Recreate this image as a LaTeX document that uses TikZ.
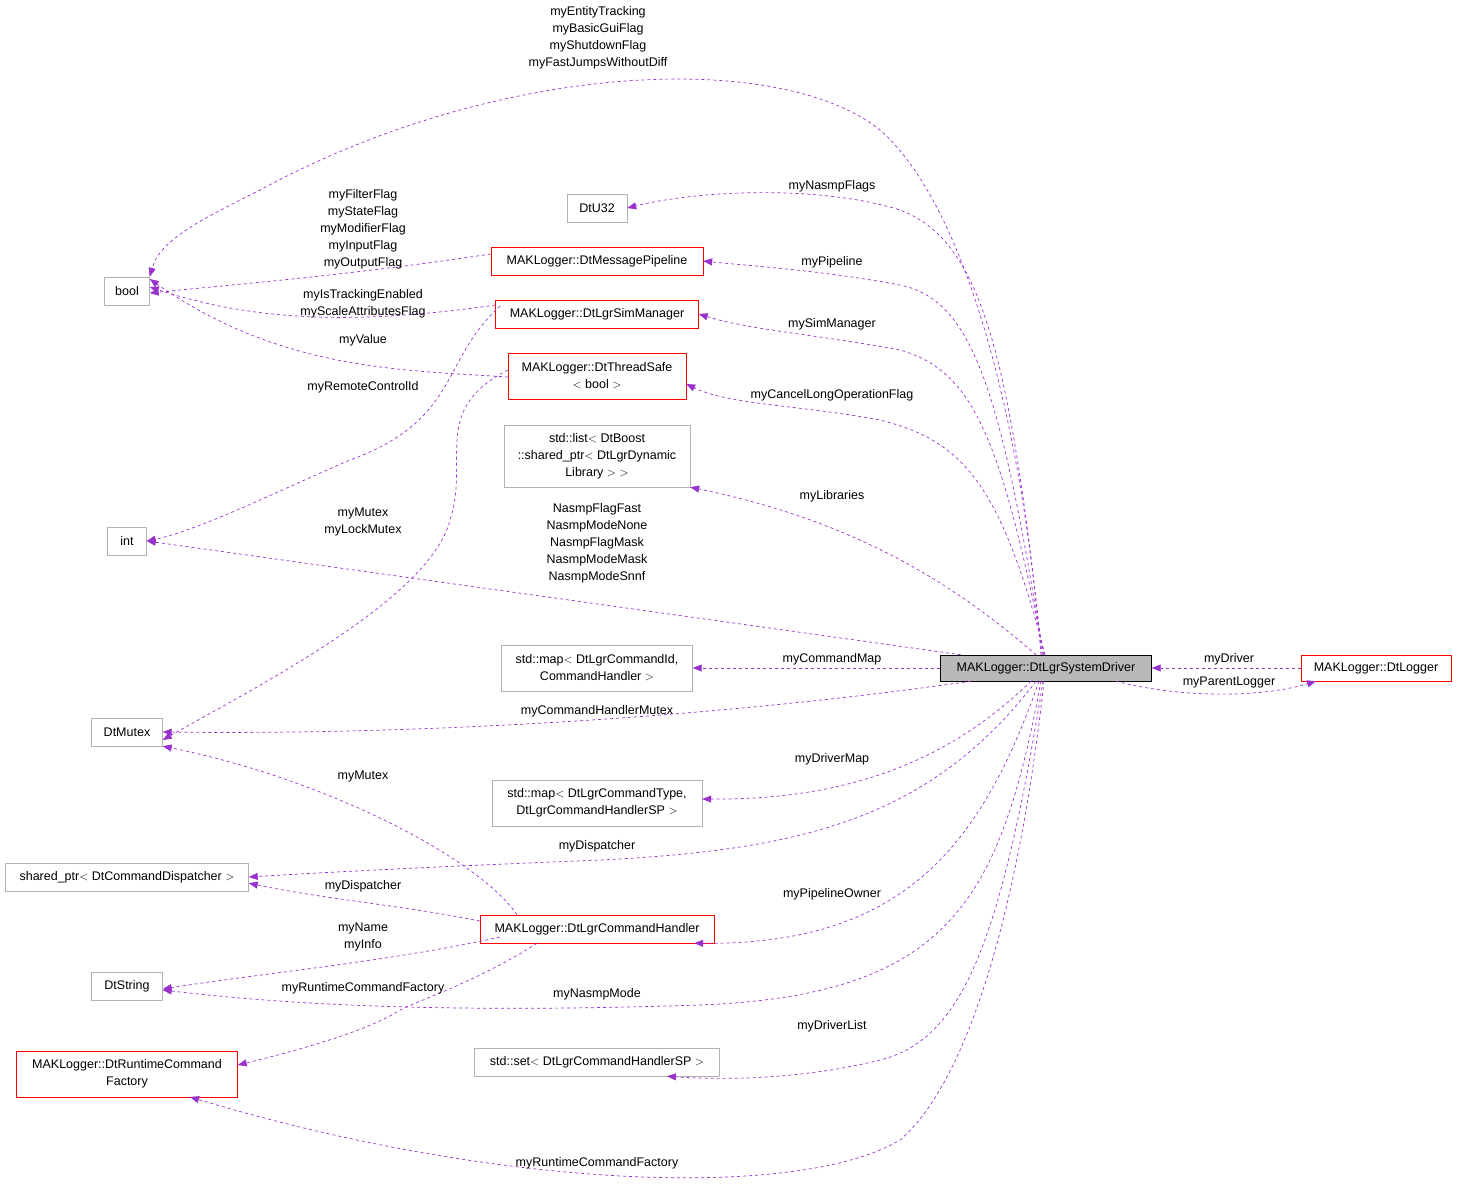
\documentclass[tikz,border=0pt]{standalone}
\usepackage{fontspec}
\setmainfont{Liberation Sans}
\usetikzlibrary{arrows.meta}
\begin{document}
\begin{tikzpicture}[x=1pt,y=-1pt,
  every node/.style={font=\fontsize{12.5}{17}\selectfont},
  box/.style={draw=gray!60,fill=white,inner sep=3pt,minimum height=28pt,align=center},
  rbox/.style={box,draw=red},
  e/.style={draw={rgb,255:red,153;green,50;blue,204},dashed,line width=0.7pt,-{Triangle[length=9pt,width=7pt]}},
  lab/.style={align=center,inner sep=0pt}]
\useasboundingbox (0,0) rectangle (1459,1190);
\node[box,minimum width=45pt] (bool) at (127,291) {bool};
\node[box,minimum width=39pt] (int) at (127,541) {int};
\node[box,minimum width=71pt] (mutex) at (127,732) {DtMutex};
\node[box,minimum width=243pt] (disp) at (127,877) {shared\_ptr$<$ DtCommandDispatcher $>$};
\node[box,minimum width=71pt] (str) at (127,986) {DtString};
\node[rbox,minimum width=221pt,minimum height=46pt] (rcf) at (127,1074) {MAKLogger::DtRuntimeCommand\\Factory};
\node[box,minimum width=60pt] (u32) at (597,208) {DtU32};
\node[rbox,minimum width=212pt] (pipe) at (597,261) {MAKLogger::DtMessagePipeline};
\node[rbox,minimum width=203pt] (sim) at (597,314) {MAKLogger::DtLgrSimManager};
\node[rbox,minimum width=178pt,minimum height=46pt] (ts) at (597,376) {MAKLogger::DtThreadSafe\\$<$ bool $>$};
\node[box,minimum width=186pt,minimum height=62pt] (list) at (597,456) {std::list$<$ DtBoost\\::shared\_ptr$<$ DtLgrDynamic\\Library $>$ $>$};
\node[box,minimum width=191pt,minimum height=46pt] (map1) at (597,668) {std::map$<$ DtLgrCommandId,\\CommandHandler $>$};
\node[box,minimum width=210pt,minimum height=46pt] (map2) at (597,803) {std::map$<$ DtLgrCommandType,\\DtLgrCommandHandlerSP $>$};
\node[rbox,minimum width=234pt] (ch) at (597,929) {MAKLogger::DtLgrCommandHandler};
\node[box,minimum width=245pt] (set) at (597,1062) {std::set$<$ DtLgrCommandHandlerSP $>$};
\node[draw=black,fill=gray!55,minimum width=211pt,minimum height=26pt,inner sep=3pt] (sd) at (1046,668) {MAKLogger::DtLgrSystemDriver};
\node[rbox,minimum width=150pt,minimum height=26pt] (log) at (1376,668) {MAKLogger::DtLogger};

\draw[e] ([xshift=-5pt]sd.north) .. controls (1020,400) and (960,200) .. (880,130) .. controls (780,50) and (500,60) .. (260,190) .. controls (200,220) and (160,240) .. (bool.north east);
\node[lab] at (598,38) {myEntityTracking\\myBasicGuiFlag\\myShutdownFlag\\myFastJumpsWithoutDiff};
\draw[e] ([xshift=-4pt]sd.north) .. controls (1010,350) and (980,240) .. (900,210) .. controls (820,185) and (700,190) .. (u32.east);
\node[lab] at (832,186) {myNasmpFlags};
\draw[e] ([xshift=-3pt]sd.north) .. controls (1000,380) and (970,300) .. (900,285) .. controls (820,270) and (750,266) .. (pipe.east);
\node[lab] at (832,262) {myPipeline};
\draw[e] ([xshift=-2pt]sd.north) .. controls (1000,430) and (970,370) .. (900,350) .. controls (820,335) and (750,330) .. (sim.east);
\node[lab] at (832,324) {mySimManager};
\draw[e] ([xshift=-1pt]sd.north) .. controls (1000,480) and (960,440) .. (880,420) .. controls (800,405) and (730,405) .. ([yshift=-8pt]ts.east);
\node[lab] at (832,395) {myCancelLongOperationFlag};
\draw[e] ([xshift=-10pt]sd.north) .. controls (950,580) and (850,520) .. (list.south east);
\node[lab] at (832,496) {myLibraries};
\draw[e] ([xshift=-85pt]sd.north) -- (int.east);
\node[lab] at (597,543) {NasmpFlagFast\\NasmpModeNone\\NasmpFlagMask\\NasmpModeMask\\NasmpModeSnnf};
\draw[e] (sd.west) -- (map1.east);
\node[lab] at (832,659) {myCommandMap};
\draw[e] ([xshift=-75pt]sd.south) .. controls (700,720) and (400,735) .. (mutex.east);
\node[lab] at (597,711) {myCommandHandlerMutex};
\draw[e] ([xshift=-15pt]sd.south) .. controls (950,760) and (850,800) .. ([yshift=4pt]map2.east);
\node[lab] at (832,759) {myDriverMap};
\draw[e] ([xshift=-10pt]sd.south) .. controls (930,820) and (800,850) .. (600,860) .. controls (450,866) and (330,872) .. (disp.east);
\node[lab] at (597,846) {myDispatcher};
\draw[e] ([xshift=-7pt]sd.south) .. controls (980,850) and (900,945) .. ([xshift=-20pt]ch.south east);
\node[lab] at (832,894) {myPipelineOwner};
\draw[e] ([xshift=-5pt]sd.south) .. controls (1000,900) and (950,995) .. (700,1005) .. controls (400,1015) and (250,1000) .. ([yshift=-4pt]str.east);
\node[lab] at (597,994) {myNasmpMode};
\draw[e] ([xshift=-3pt]sd.south) .. controls (1000,950) and (960,1040) .. (880,1060) .. controls (800,1080) and (720,1080) .. ([xshift=70pt]set.south);
\node[lab] at (832,1026) {myDriverList};
\draw[e] ([xshift=-2pt]sd.south) .. controls (1020,900) and (970,1080) .. (900,1140) .. controls (800,1200) and (500,1190) .. (190,1097);
\node[lab] at (597,1163) {myRuntimeCommandFactory};
\draw[e] (log.west) -- (sd.east);
\node[lab] at (1229,659) {myDriver};
\draw[e] ([xshift=70pt]sd.south) .. controls (1180,698) and (1260,698) .. ([xshift=-60pt]log.south);
\node[lab] at (1229,682) {myParentLogger};

\draw[e] ([yshift=7pt]pipe.west) .. controls (350,275) and (250,283) .. ([yshift=-2pt]bool.east);
\node[lab] at (363,229) {myFilterFlag\\myStateFlag\\myModifierFlag\\myInputFlag\\myOutputFlag};
\draw[e] ([yshift=9pt]sim.west) .. controls (350,326) and (250,320) .. ([yshift=4pt]bool.east);
\node[lab] at (363,304) {myIsTrackingEnabled\\myScaleAttributesFlag};
\draw[e] ([yshift=-1pt]ts.west) .. controls (400,370) and (280,370) .. ([yshift=12pt]bool.east);
\node[lab] at (363,340) {myValue};
\draw[e] ([yshift=8pt,xshift=5pt]sim.west) .. controls (440,360) and (460,420) .. (350,460) .. controls (280,490) and (200,530) .. (int.east);
\node[lab] at (363,387) {myRemoteControlId};
\draw[e] ([yshift=6pt]ts.west) .. controls (430,410) and (470,460) .. (450,520) .. controls (430,600) and (250,690) .. ([yshift=-8pt]mutex.east);
\node[lab] at (363,522) {myMutex\\myLockMutex};
\draw[e] ([xshift=-80pt]ch.north) .. controls (480,860) and (330,780) .. (mutex.south east);
\node[lab] at (363,776) {myMutex};
\draw[e] ([yshift=8pt]ch.west) .. controls (400,905) and (330,900) .. ([yshift=8pt]disp.south east);
\node[lab] at (363,886) {myDispatcher};
\draw[e] ([yshift=-8pt,xshift=20pt]ch.west) .. controls (400,960) and (250,975) .. ([yshift=-3pt]str.east);
\node[lab] at (363,937) {myName\\myInfo};
\draw[e] ([xshift=-60pt]ch.south) .. controls (480,980) and (420,1000) .. (400,1010) .. controls (370,1030) and (300,1050) .. ([yshift=9pt]rcf.east);
\node[lab] at (363,988) {myRuntimeCommandFactory};
\end{tikzpicture}
\end{document}
